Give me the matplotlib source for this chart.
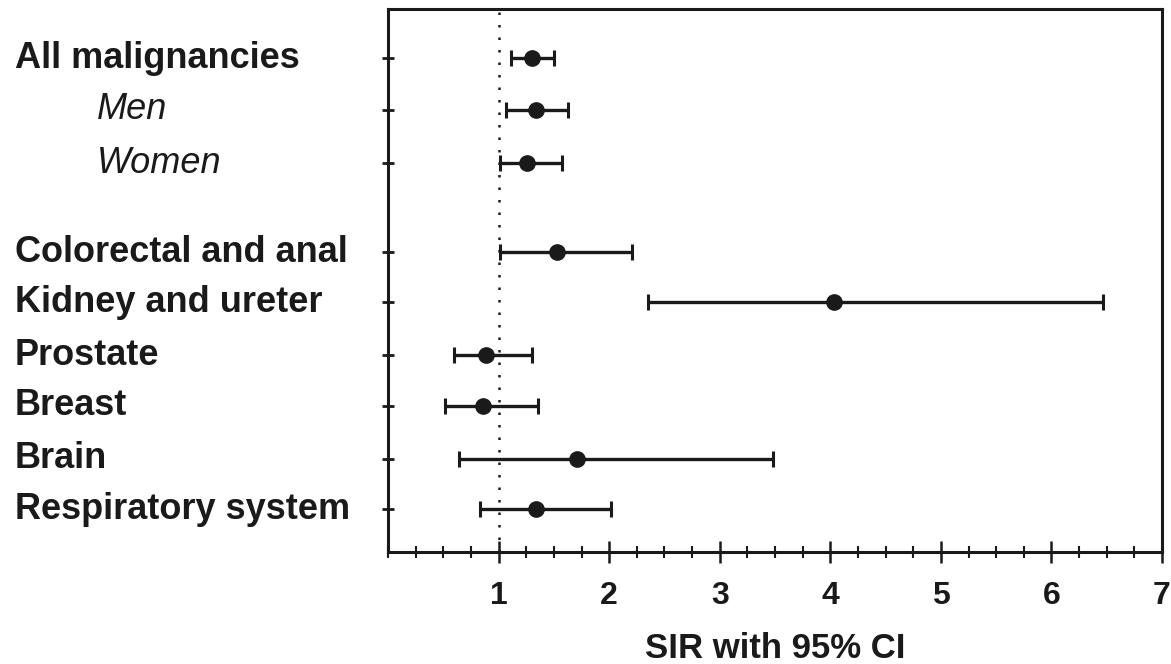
import matplotlib

matplotlib.use("Agg")
import matplotlib.pyplot as plt
import matplotlib.transforms as mtransforms
import numpy as np
from matplotlib.ticker import MultipleLocator

plt.rcParams["font.family"] = ["Liberation Sans", "DejaVu Sans"]

labels = [
    "All malignancies",
    "Men",
    "Women",
    "Colorectal and anal",
    "Kidney and ureter",
    "Prostate",
    "Breast",
    "Brain",
    "Respiratory system",
]
italic = [False, True, True, False, False, False, False, False, False]
sir = [1.30, 1.34, 1.26, 1.53, 4.03, 0.89, 0.86, 1.71, 1.34]
ci_low = [1.11, 1.07, 1.01, 1.01, 2.35, 0.60, 0.52, 0.64, 0.83]
ci_high = [1.50, 1.63, 1.57, 2.21, 6.47, 1.30, 1.36, 3.48, 2.02]
rows = [0, 1, 2.03, 3.75, 4.72, 5.75, 6.72, 7.75, 8.72]

ink = "#1a1a1a"

fig = plt.figure(figsize=(11.71, 6.64), dpi=100)
ax = fig.add_axes([388 / 1171, 1 - 552 / 664, (1162 - 388) / 1171, (552 - 9) / 664])

sir = np.array(sir)
err = np.vstack([sir - np.array(ci_low), np.array(ci_high) - sir])

ax.axvline(1, color=ink, linewidth=1.8, linestyle=(0, (1, 4)), zorder=1)
ax.errorbar(
    sir,
    rows,
    xerr=err,
    fmt="o",
    color=ink,
    markersize=11,
    elinewidth=2.4,
    capsize=6,
    capthick=2.2,
    zorder=3,
)

ax.set_xlim(0, 7)
ax.set_ylim(9.55, -0.95)
ax.xaxis.set_minor_locator(MultipleLocator(0.25))
ax.set_xticks([1, 2, 3, 4, 5, 6, 7])
ax.set_yticks(rows, labels=[""] * len(rows))

for spine in ax.spines.values():
    spine.set_linewidth(2.2)
    spine.set_color(ink)

ax.tick_params(axis="x", which="major", direction="inout", length=16, width=1.8,
               colors=ink, labelsize=23, pad=13)
ax.tick_params(axis="x", which="minor", direction="inout", length=9, width=1.5, colors=ink)
ax.tick_params(axis="y", direction="inout", length=9, width=2.0, colors=ink)
for lab in ax.get_xticklabels():
    lab.set_fontweight("bold")

ax.set_xlabel("SIR with 95% CI", fontsize=25, fontweight="bold", color=ink, labelpad=15)

trans = mtransforms.blended_transform_factory(fig.transFigure, ax.transData)
for label, y, it in zip(labels, rows, italic):
    if it:
        ax.text(97 / 1171, y, label, transform=trans, fontsize=26, fontstyle="italic",
                color=ink, va="center", ha="left")
    else:
        ax.text(15 / 1171, y, label, transform=trans, fontsize=26, fontweight="bold",
                color=ink, va="center", ha="left")

fig.savefig("out.png", dpi=100)
